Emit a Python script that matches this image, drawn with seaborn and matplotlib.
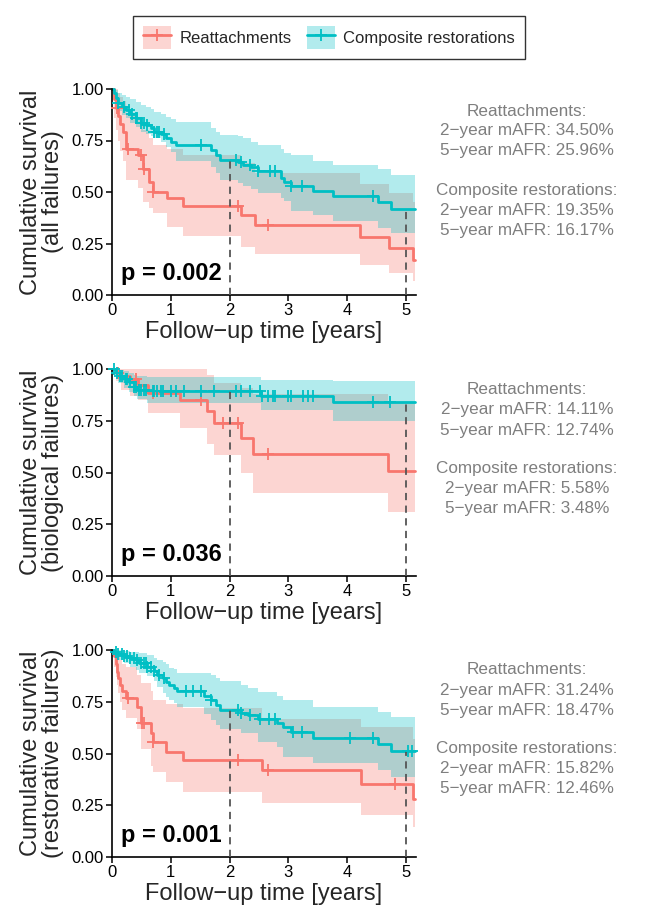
import numpy as np
import pandas as pd
import matplotlib
matplotlib.use("Agg")
import matplotlib.pyplot as plt
from matplotlib.patches import Patch
from matplotlib.lines import Line2D
from matplotlib.legend_handler import HandlerTuple
import seaborn as sns

# ---------------- data ----------------
groups = ["Reattachments", "Composite restorations"]
panel_ylabels = ["Cumulative survival\n(all failures)",
                 "Cumulative survival\n(biological failures)",
                 "Cumulative survival\n(restorative failures)"]
p_values = ["p = 0.002", "p = 0.036", "p = 0.001"]
mafr_red = [("34.50%", "25.96%"), ("14.11%", "12.74%"), ("31.24%", "18.47%")]
mafr_teal = [("19.35%", "16.17%"), ("5.58%", "3.48%"), ("15.82%", "12.46%")]
x_ticks = [0, 1, 2, 3, 4, 5]
y_ticks = [0.00, 0.25, 0.50, 0.75, 1.00]
ref_years = [2, 5]
t_end = 5.15

# Panel 1 (all failures) - Reattachments
p1_red_t  = [0, 0.03, 0.06, 0.10, 0.14, 0.19, 0.23, 0.45, 0.52, 0.63, 0.69, 0.94, 1.20, 2.20, 2.43, 4.22, 4.71, 5.12]
p1_red_s  = [1, 0.95, 0.91, 0.87, 0.83, 0.79, 0.71, 0.68, 0.61, 0.55, 0.50, 0.47, 0.43, 0.39, 0.34, 0.28, 0.226, 0.17]
p1_red_lo = [1, 0.86, 0.80, 0.75, 0.70, 0.65, 0.56, 0.52, 0.45, 0.42, 0.40, 0.33, 0.285, 0.235, 0.197, 0.148, 0.108, 0.07]
p1_red_hi = [1, 1.0, 1.0, 0.98, 0.96, 0.94, 0.88, 0.86, 0.80, 0.76, 0.73, 0.71, 0.68, 0.64, 0.59, 0.54, 0.495, 0.45]
p1_red_cens = [0.08, 0.27, 0.49, 0.55, 0.70, 2.15, 2.66]
# Panel 1 - Composite restorations
p1_teal_t  = [0, 0.03, 0.06, 0.11, 0.17, 0.23, 0.31, 0.40, 0.49, 0.57, 0.66, 0.71, 0.83, 0.91, 1.00, 1.09, 1.69, 1.77, 1.83, 2.14, 2.23, 2.37, 2.48, 2.87, 2.93, 3.04, 3.41, 3.75, 4.53, 4.75]
p1_teal_s  = [1, 0.98, 0.955, 0.93, 0.915, 0.90, 0.88, 0.86, 0.835, 0.825, 0.81, 0.79, 0.78, 0.76, 0.745, 0.73, 0.705, 0.68, 0.656, 0.645, 0.632, 0.62, 0.60, 0.568, 0.548, 0.527, 0.503, 0.479, 0.452, 0.419]
p1_teal_lo = [1, 0.955, 0.925, 0.895, 0.875, 0.86, 0.835, 0.815, 0.79, 0.78, 0.77, 0.76, 0.745, 0.72, 0.695, 0.65, 0.62, 0.59, 0.56, 0.545, 0.53, 0.515, 0.495, 0.47, 0.458, 0.41, 0.387, 0.361, 0.326, 0.302]
p1_teal_hi = [1, 1.0, 0.995, 0.98, 0.97, 0.96, 0.95, 0.935, 0.92, 0.915, 0.905, 0.89, 0.88, 0.865, 0.855, 0.84, 0.81, 0.79, 0.775, 0.77, 0.76, 0.745, 0.73, 0.71, 0.69, 0.68, 0.65, 0.63, 0.61, 0.584]
p1_teal_cens = [0.11, 0.20, 0.29, 0.34, 0.40, 0.43, 0.49, 0.54, 0.60, 0.71, 0.77, 0.80, 0.89, 1.51, 2.11, 2.20, 2.34, 2.49, 2.68, 2.78, 3.05, 3.23, 4.44]

# Panel 2 (biological failures) - Reattachments
p2_red_t  = [0, 0.06, 0.15, 0.30, 0.45, 0.62, 1.15, 1.62, 1.74, 2.20, 2.40, 4.70]
p2_red_s  = [1, 0.98, 0.965, 0.95, 0.925, 0.885, 0.85, 0.795, 0.74, 0.668, 0.59, 0.505]
p2_red_lo = [1, 0.94, 0.90, 0.87, 0.85, 0.787, 0.714, 0.64, 0.585, 0.50, 0.40, 0.31]
p2_red_hi = [1, 1.0, 1.0, 1.0, 1.0, 1.0, 1.0, 0.97, 0.93, 0.91, 0.879, 0.835]
p2_red_cens = [0.10, 0.40, 0.69, 1.51, 1.89, 2.14, 2.66]
# Panel 2 - Composite restorations
p2_teal_t  = [0, 0.06, 0.11, 0.20, 0.29, 0.37, 0.43, 0.60, 2.54, 3.75]
p2_teal_s  = [1, 0.98, 0.965, 0.95, 0.935, 0.915, 0.90, 0.892, 0.868, 0.839]
p2_teal_lo = [1, 0.95, 0.93, 0.91, 0.89, 0.87, 0.855, 0.835, 0.803, 0.747]
p2_teal_hi = [1, 1.0, 0.995, 0.99, 0.98, 0.97, 0.965, 0.96, 0.948, 0.94]
p2_teal_cens = [0.03, 0.09, 0.14, 0.17, 0.23, 0.26, 0.31, 0.37, 0.40, 0.46, 0.49, 0.54, 0.57,
                0.69, 0.71, 0.77, 0.83, 0.86, 1.00, 1.09, 1.23, 1.51, 1.74, 2.11, 2.20, 2.34,
                2.51, 2.55, 2.66, 2.73, 2.78, 3.00, 3.04, 3.24, 3.33, 3.41, 4.44, 4.73]

# Panel 3 (restorative failures) - Reattachments
p3_red_t  = [0, 0.03, 0.06, 0.09, 0.11, 0.14, 0.17, 0.23, 0.43, 0.49, 0.66, 0.69, 0.91, 1.20, 2.55, 4.24, 5.12]
p3_red_s  = [1, 0.97, 0.93, 0.895, 0.863, 0.83, 0.80, 0.766, 0.726, 0.645, 0.60, 0.556, 0.508, 0.468, 0.419, 0.355, 0.28]
p3_red_lo = [1, 0.92, 0.87, 0.83, 0.79, 0.75, 0.71, 0.67, 0.62, 0.52, 0.44, 0.41, 0.363, 0.315, 0.263, 0.205, 0.145]
p3_red_hi = [1, 1.0, 1.0, 0.99, 0.97, 0.95, 0.93, 0.92, 0.88, 0.84, 0.80, 0.76, 0.74, 0.718, 0.669, 0.63, 0.57]
p3_red_cens = [0.27, 0.51, 0.54, 0.69, 2.14, 2.66, 4.81]
# Panel 3 - Composite restorations
p3_teal_t  = [0, 0.03, 0.10, 0.20, 0.30, 0.40, 0.46, 0.60, 0.71, 0.77, 0.86, 0.91, 0.97, 1.06, 1.11, 1.57, 1.69, 1.77, 1.83, 2.20, 2.31, 2.49, 2.81, 2.90, 3.04, 3.41, 4.53, 4.75]
p3_teal_s  = [1, 0.99, 0.98, 0.97, 0.96, 0.95, 0.935, 0.92, 0.90, 0.88, 0.863, 0.847, 0.83, 0.815, 0.80, 0.78, 0.758, 0.734, 0.71, 0.694, 0.685, 0.669, 0.645, 0.629, 0.602, 0.576, 0.544, 0.511]
p3_teal_lo = [1, 0.97, 0.95, 0.935, 0.92, 0.905, 0.89, 0.875, 0.85, 0.82, 0.79, 0.775, 0.76, 0.745, 0.726, 0.69, 0.66, 0.637, 0.62, 0.597, 0.597, 0.556, 0.532, 0.484, 0.484, 0.452, 0.42, 0.387]
p3_teal_hi = [1, 1.0, 1.0, 0.995, 0.99, 0.99, 0.985, 0.975, 0.96, 0.95, 0.94, 0.93, 0.915, 0.91, 0.89, 0.89, 0.88, 0.863, 0.85, 0.83, 0.815, 0.798, 0.78, 0.758, 0.758, 0.726, 0.70, 0.677]
p3_teal_cens = [0.06, 0.11, 0.17, 0.20, 0.26, 0.31, 0.37, 0.43, 0.49, 0.54, 0.57, 0.60, 0.66,
                0.71, 0.80, 0.89, 1.26, 1.37, 1.51, 1.69, 2.14, 2.20, 2.34, 2.51, 2.67, 2.78,
                3.07, 3.23, 4.04, 4.44, 5.04, 5.10]

panels = [
    dict(red=(p1_red_t, p1_red_s, p1_red_lo, p1_red_hi, p1_red_cens),
         teal=(p1_teal_t, p1_teal_s, p1_teal_lo, p1_teal_hi, p1_teal_cens)),
    dict(red=(p2_red_t, p2_red_s, p2_red_lo, p2_red_hi, p2_red_cens),
         teal=(p2_teal_t, p2_teal_s, p2_teal_lo, p2_teal_hi, p2_teal_cens)),
    dict(red=(p3_red_t, p3_red_s, p3_red_lo, p3_red_hi, p3_red_cens),
         teal=(p3_teal_t, p3_teal_s, p3_teal_lo, p3_teal_hi, p3_teal_cens)),
]

# ---------------- style ----------------
sns.set_theme(style="ticks")
plt.rcParams["font.family"] = ["Liberation Sans", "DejaVu Sans"]
RED = "#F8766D"
TEAL = "#00BFC4"
GREY_TXT = "#7f7f7f"

W, H = 645, 910
fig = plt.figure(figsize=(W / 100, H / 100), dpi=100)

# axes boxes in pixels: (left, top, right, bottom)
boxes = [(112, 89, 416, 295), (112, 369, 416, 576), (112, 650, 416, 857)]
text_tops = [111, 390, 670]


def step_at(t, times, vals):
    i = np.searchsorted(np.asarray(times), t, side="right") - 1
    return np.asarray(vals)[i]


for k, (pan, box) in enumerate(zip(panels, boxes)):
    l, t_, r, b = box
    ax = fig.add_axes([l / W, 1 - b / H, (r - l) / W, (b - t_) / H])

    for key, col, name in [("red", RED, groups[0]), ("teal", TEAL, groups[1])]:
        tt, ss, lo, hi, cens = pan[key]
        te = list(tt) + [t_end]
        se = list(ss) + [ss[-1]]
        le = list(lo) + [lo[-1]]
        he = list(hi) + [hi[-1]]
        ax.fill_between(te, le, he, step="post", color=col, alpha=0.3, lw=0)
        df = pd.DataFrame({"time": te, "surv": se})
        sns.lineplot(data=df, x="time", y="surv", ax=ax, color=col, lw=2.0,
                     drawstyle="steps-post", estimator=None, sort=False, clip_on=False)
        cy = [step_at(c, tt, ss) for c in cens]
        sns.scatterplot(x=cens, y=cy, ax=ax, marker="+", s=80, color=col,
                        linewidth=1.3, zorder=5, clip_on=False)

    # dashed reference lines at 2 and 5 years
    for yr in ref_years:
        top = max(step_at(yr, pan["red"][0], pan["red"][1]),
                  step_at(yr, pan["teal"][0], pan["teal"][1]))
        ax.plot([yr, yr], [0, top], ls=(0, (4, 3)), color="#555555", lw=1.3, zorder=4)

    ax.text(0.03, 0.05, p_values[k], transform=ax.transAxes, fontsize=17,
            fontweight="bold", ha="left", va="bottom", color="black")

    ax.set_xlim(0, 5.17)
    ax.set_ylim(0, 1.0)
    ax.set_xticks(x_ticks)
    ax.set_yticks(y_ticks)
    ax.set_yticklabels([f"{v:.2f}" for v in y_ticks])
    ax.tick_params(axis="both", labelsize=12, length=4, width=1.1, pad=2, colors="black")
    for s in ["top", "right"]:
        ax.spines[s].set_visible(False)
    for s in ["left", "bottom"]:
        ax.spines[s].set_color("black")
        ax.spines[s].set_linewidth(1.2)
    ax.set_xlabel("Follow\u2212up time [years]", fontsize=17, labelpad=2)
    ax.set_ylabel(panel_ylabels[k], fontsize=17, linespacing=1.0)
    ax.yaxis.set_label_coords(-0.158, 0.5)
    ax.grid(False)

    # right-hand annotation
    x_c = 527 / W
    y0 = text_tops[k]
    lines = [("Reattachments:", 0), (f"2\u2212year mAFR: {mafr_red[k][0]}", 20),
             (f"5\u2212year mAFR: {mafr_red[k][1]}", 40),
             ("Composite restorations:", 79), (f"2\u2212year mAFR: {mafr_teal[k][0]}", 99),
             (f"5\u2212year mAFR: {mafr_teal[k][1]}", 119)]
    for txt, dy in lines:
        fig.text(x_c, 1 - (y0 + dy) / H, txt, ha="center", va="center",
                 fontsize=12.3, color=GREY_TXT)

# legend
handles = [(Patch(facecolor=RED, alpha=0.3, edgecolor="none"),
            Line2D([], [], color=RED, lw=2, marker="+", markersize=9, mew=1.3)),
           (Patch(facecolor=TEAL, alpha=0.3, edgecolor="none"),
            Line2D([], [], color=TEAL, lw=2, marker="+", markersize=9, mew=1.3))]
leg = fig.legend(handles, groups, loc="center", bbox_to_anchor=(329 / W, 1 - 37.5 / H),
                 ncol=2, fontsize=12, frameon=True, fancybox=False,
                 handler_map={tuple: HandlerTuple(ndivide=1)},
                 handlelength=1.7, handleheight=1.7, columnspacing=0.9, handletextpad=0.5,
                 borderpad=0.6)
leg.get_frame().set_edgecolor("black")
leg.get_frame().set_linewidth(1.0)

fig.savefig("out.png", dpi=100)
